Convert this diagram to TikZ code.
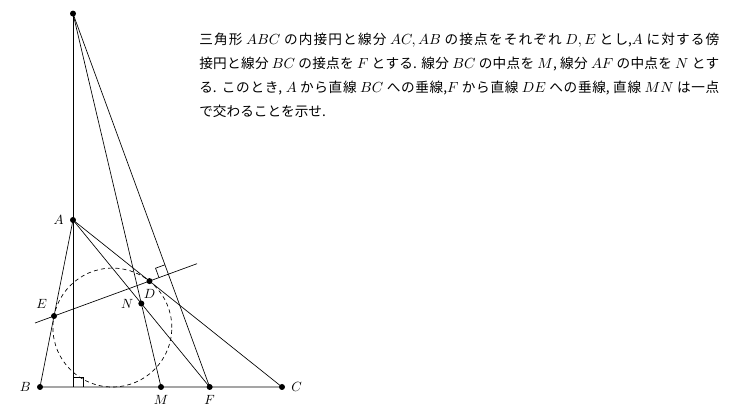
\documentclass[tikz,border=0pt]{standalone}
\usepackage{fontspec}
\newfontfamily\jpfont[Scale=0.93]{Noto Sans CJK JP}
\usetikzlibrary{calc}
\XeTeXlinebreaklocale "ja"
\XeTeXlinebreakskip=0pt plus 2pt

\begin{document}
\begin{tikzpicture}[x=0.75pt,y=0.75pt,line width=0.5pt,
  dot/.style={circle,fill,inner sep=0pt,minimum size=4.5pt},
  rmark/.style={line width=0.5pt}]
  \useasboundingbox (0,0) rectangle (744,414);

  % points of the figure
  \node[dot] (P) at (73,400.4) {};
  \node[dot,label={[label distance=1pt]left:$A$}] (A) at (73,194) {};
  \node[dot,label={[label distance=1pt]left:$B$}] (B) at (40,27) {};
  \node[dot,label={[label distance=1pt]right:$C$}] (C) at (282,27) {};
  \node[dot,label={[label distance=0pt]below:$M$}] (M) at (161,27) {};
  \node[dot,label={[label distance=0pt]below:$F$}] (F) at (209.65,27) {};
  \node[dot,label={[label distance=0pt]below:$D$}] (D) at (149.47,132.9) {};
  \node[dot,label={[label distance=0pt]above left:$E$}] (E) at (54.03,97.98) {};
  \node[dot,label={[label distance=0pt]left:$N$}] (N) at (141.32,110.5) {};
  \coordinate (Q) at (73,27);
  \coordinate (H) at (168.37,139.82);
  \coordinate (I) at (112.35,86.45);
  \coordinate (L1) at (35,91.0);
  \coordinate (L2) at (197,150.3);

  % triangle and lines
  \draw (A.center) -- (B.center) -- (C.center) -- cycle;
  \draw (A.center) -- (F.center);
  \draw (P.center) -- (Q);
  \draw (P.center) -- (M.center);
  \draw (P.center) -- (F.center);
  \draw (L1) -- (L2);
  \draw[dashed,dash pattern=on 3pt off 2.4pt] (I) circle (59.45);

  % right angles
  \draw[rmark] (Q) ++(10,0) -- ++(0,10) -- ++(-10,0);
  \coordinate (h1) at ($(H)!7.5pt!(E)$);
  \coordinate (h2) at ($(H)!7.5pt!(P)$);
  \draw[rmark] (h1) -- ($(h1)+(h2)-(H)$) -- (h2);

  % problem text
  \node[anchor=north west,inner sep=0pt,text width=390pt,align=justify,
    font=\jpfont\fontsize{11pt}{18pt}\selectfont] (txt) at (199,381) {%
    三角形 $ABC$ の内接円と線分 $AC, AB$ の接点をそれぞれ $D, E$ とし,$A$ に対する傍\linebreak
    接円と線分 $BC$ の接点を $F$ とする. 線分 $BC$ の中点を $M$, 線分 $AF$ の中点を $N$ とす\linebreak
    る. このとき, $A$ から直線 $BC$ への垂線,$F$ から直線 $DE$ への垂線, 直線 $MN$ は一点\linebreak
    で交わることを示せ.};
\end{tikzpicture}
\end{document}
